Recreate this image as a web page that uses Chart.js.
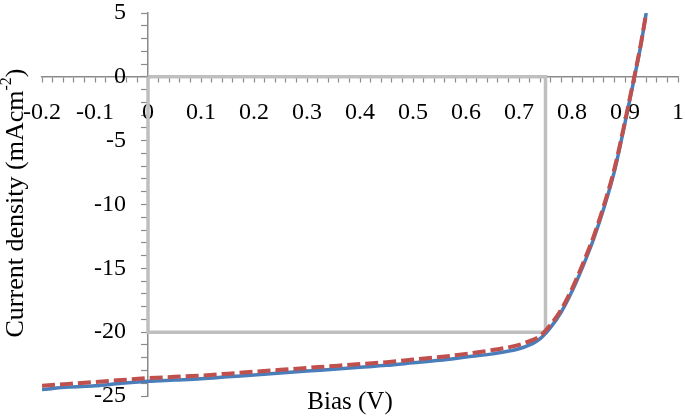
<!DOCTYPE html>
<html>
<head>
<meta charset="utf-8">
<script src="https://cdn.jsdelivr.net/npm/chart.js@4"></script>
<style>
  html, body { margin: 0; padding: 0; background: #fff; }
  #wrap { width: 685px; height: 417px; }
</style>
</head>
<body>
<div id="wrap"><canvas id="grafico"></canvas></div>
<script>
// bias (V)
var bias = [-0.2, -0.15, -0.1, -0.05, 0, 0.05, 0.1, 0.15, 0.2, 0.25, 0.3, 0.35, 0.4, 0.45, 0.5,
    0.55, 0.6, 0.65, 0.7, 0.72, 0.74, 0.76, 0.78, 0.8, 0.82, 0.84, 0.86, 0.88, 0.9, 0.91, 0.92, 0.93, 0.94];

// current density, solid blue curve
var jBlue = [-24.5, -24.3, -24.2, -24.0, -23.85, -23.75, -23.65, -23.5, -23.35, -23.2, -23.05, -22.9, -22.75, -22.6, -22.4,
    -22.2, -21.95, -21.7, -21.3, -21.0, -20.5, -19.6, -18.4, -16.8, -14.9, -12.8, -10.3, -7.4, -3.6, -1.6, 0.4, 2.5, 5.0];

// current density, dashed red curve
var jRed = [-24.2, -24.05, -23.9, -23.75, -23.6, -23.5, -23.4, -23.25, -23.1, -22.95, -22.8, -22.65, -22.5, -22.35, -22.15,
    -21.95, -21.7, -21.4, -21.0, -20.7, -20.3, -19.4, -18.2, -16.6, -14.7, -12.6, -10.1, -7.2, -3.5, -1.5, 0.5, 2.6, 5.0];

// max power rectangle (Vmp x Jmp)
var rectX = [0, 0.75, 0.75, 0, 0];
var rectY = [0, 0, -20, -20, 0];

// axis ranges / ticks: min, max, minor step, labelled step
var xTicks = [-0.2, 1, 0.02, 0.1];
var yTicks = [-25, 5, 1, 5];

function pts(xs, ys) {
    return xs.map(function (x, i) { return { x: x, y: ys[i] }; });
}

function isMultiple(v, step) {
    var r = v / step;
    return Math.abs(r - Math.round(r)) < 1e-6;
}

var serif = 'Liberation Serif';
var axisGray = '#8a8a8a';

// rotulos do eixo y (a esquerda da linha x = 0)
var yLabels = {
    id: 'yLabels',
    beforeDatasetsDraw: function (chart) {
        var c = chart.ctx, ys = chart.scales.y, xs = chart.scales.x;
        var x0 = xs.getPixelForValue(0) - 22;
        c.save();
        c.fillStyle = '#000';
        c.font = '24px "' + serif + '"';
        c.textAlign = 'right';
        c.textBaseline = 'middle';
        ys.ticks.forEach(function (t) {
            if (!isMultiple(t.value, yTicks[3])) return;
            c.fillText(String(Math.round(t.value)), x0, ys.getPixelForValue(t.value));
        });
        c.restore();
    }
};

// titulos dos eixos
var axisTitles = {
    id: 'axisTitles',
    afterDraw: function (chart) {
        var c = chart.ctx;
        c.save();
        c.fillStyle = '#000';
        c.font = '25px "' + serif + '"';
        c.textAlign = 'center';
        c.textBaseline = 'middle';
        c.fillText('Bias (V)', 350, 402);

        // y title, rotated, with superscript
        var main = 'Current density (mAcm', sup = '-2', end = ')';
        c.font = '26px "' + serif + '"';
        var w1 = c.measureText(main).width;
        var w3 = c.measureText(end).width;
        c.font = '16px "' + serif + '"';
        var w2 = c.measureText(sup).width;
        var total = w1 + w2 + w3;
        c.translate(16, 203);
        c.rotate(-Math.PI / 2);
        c.textAlign = 'left';
        c.textBaseline = 'middle';
        var x0 = -total / 2;
        c.font = '26px "' + serif + '"';
        c.fillText(main, x0, 0);
        c.font = '16px "' + serif + '"';
        c.fillText(sup, x0 + w1, -9);
        c.font = '26px "' + serif + '"';
        c.fillText(end, x0 + w1 + w2, 0);
        c.restore();
    }
};

var data = {
    datasets: [{
        label: 'rect',
        data: pts(rectX, rectY),
        borderColor: '#bfbfbf',
        borderWidth: 3.5,
        pointRadius: 0,
        tension: 0,
        order: 3
    }, {
        label: 'blue',
        data: pts(bias, jBlue),
        borderColor: '#4a7ebb',
        borderWidth: 3.5,
        pointRadius: 0,
        cubicInterpolationMode: 'monotone',
        order: 2
    }, {
        label: 'red',
        data: pts(bias, jRed),
        borderColor: '#c0504d',
        borderWidth: 4,
        borderDash: [13, 5],
        pointRadius: 0,
        cubicInterpolationMode: 'monotone',
        order: 1
    }]
};

function noSpace(s) {
    s.paddingLeft = s.paddingRight = s.paddingTop = s.paddingBottom = 0;
}

var options = {
    responsive: true,
    maintainAspectRatio: false,
    animation: false,
    layout: { padding: { left: 42, right: 7, top: 13, bottom: 21 } },
    plugins: { legend: { display: false }, tooltip: { enabled: false } },
    scales: {
        x: {
            type: 'linear',
            min: xTicks[0],
            max: xTicks[1],
            position: { y: 0 },
            afterFit: function (s) { s.height = 0; noSpace(s); },
            border: { color: axisGray, width: 1.5 },
            grid: { drawOnChartArea: false, color: axisGray, tickLength: 5, tickWidth: 1.2 },
            ticks: {
                stepSize: xTicks[2],
                autoSkip: false,
                maxRotation: 0,
                padding: 16,
                color: '#000',
                font: { family: serif, size: 24 },
                callback: function (v) {
                    if (!isMultiple(v, xTicks[3])) return '';
                    return String(Math.round(v * 10) / 10);
                }
            }
        },
        y: {
            type: 'linear',
            min: yTicks[0],
            max: yTicks[1],
            position: { x: 0 },
            afterFit: function (s) { s.width = 0; noSpace(s); },
            border: { color: axisGray, width: 1.5 },
            grid: { drawOnChartArea: false, color: axisGray, tickLength: 6, tickWidth: 1.2 },
            ticks: {
                stepSize: yTicks[2],
                autoSkip: false,
                display: false
            }
        }
    }
};

var ctx = document.querySelector('#grafico').getContext('2d');
var chart = new Chart(ctx, {
    type: 'line',
    data: data,
    options: options,
    plugins: [yLabels, axisTitles]
});
</script>
</body>
</html>
